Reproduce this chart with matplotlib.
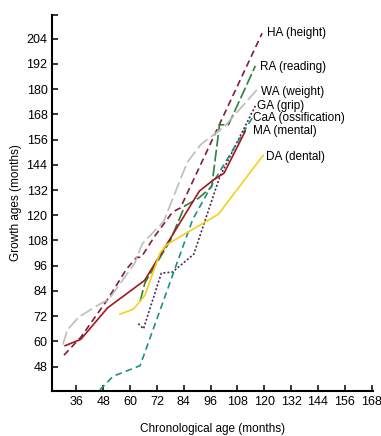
import matplotlib
matplotlib.use("Agg")
import matplotlib.pyplot as plt

plt.rcParams['font.family'] = ['Liberation Sans', 'DejaVu Sans']

# Wachstumsalter je Merkmal (chronologisches Alter, Wachstumsalter), in Monaten
ha_x = [30.5, 38, 50, 58.5, 63, 65, 71, 79, 82.5, 119]
ha_y = [53.5, 62, 80, 94.5, 100, 100, 110, 121.5, 123.5, 206.5]

ra_x = [64.5, 66.7, 78, 84.5, 90.5, 96.5, 100, 104, 116]
ra_y = [79, 88, 108, 124.5, 128, 133.5, 163, 163, 191]

wa_x = [30, 32, 37, 46, 50.5, 62, 65.5, 75, 85.5, 91.5, 97, 102, 117]
wa_y = [58.5, 65.5, 71.5, 77.5, 80, 97, 106.5, 117, 145, 153.5, 158, 162, 180]

ga_x = [63.7, 66, 74, 79, 88.5, 100, 116]
ga_y = [68.5, 66, 92.5, 93, 101.5, 138, 172]

caa_x = [46.5, 52.5, 64.5, 88, 98.5, 115]
caa_y = [37, 43.5, 48.5, 118, 138, 167]

ma_x = [31, 38, 50, 66.5, 91, 97.5, 102, 111.5]
ma_y = [58, 61, 76, 89, 131.5, 137, 140, 160]

da_x = [55.5, 61.5, 66.7, 73.4, 76.4, 99.5, 119.5]
da_y = [73, 75.3, 82, 102, 106, 120.5, 148.5]

xticks = [36, 48, 60, 72, 84, 96, 108, 120, 132, 144, 156, 168]
yticks = [48, 60, 72, 84, 96, 108, 120, 132, 144, 156, 168, 180, 192, 204]

fig = plt.figure(figsize=(3.81, 4.36), dpi=100)
ax = fig.add_axes([0.1373, 0.1032, 0.8407, 0.8624])

lw = 1.2
ax.plot(ha_x, ha_y, color='#7d1e3c', lw=lw, dashes=(4, 2.5))
ax.plot(ra_x, ra_y, color='#2f7f3a', lw=lw, dashes=(7, 2))
ax.plot(wa_x, wa_y, color='#bdbeb6', lw=lw, dashes=(8, 2.5))
ax.plot(ga_x, ga_y, color='#4b2a4e', lw=lw, dashes=(1.2, 1.2))
ax.plot(caa_x, caa_y, color='#1c8f87', lw=lw, dashes=(4, 2.5))
ax.plot(ma_x, ma_y, color='#a0181c', lw=lw)
ax.plot(da_x, da_y, color='#f2d21b', lw=lw)

# Beschriftung am Ende der Linien
fs = 8.5
ax.text(121.2, 206.5, 'HA (height)', fontsize=fs, va='center', ha='left')
ax.text(118.1, 190.6, 'RA (reading)', fontsize=fs, va='center', ha='left')
ax.text(118.5, 178.7, 'WA (weight)', fontsize=fs, va='center', ha='left')
ax.text(116.9, 172.0, 'GA (grip)', fontsize=fs, va='center', ha='left')
ax.text(115.1, 166.3, 'CaA (ossification)', fontsize=fs, va='center', ha='left')
ax.text(115.1, 160.2, 'MA (mental)', fontsize=fs, va='center', ha='left')
ax.text(120.8, 147.8, 'DA (dental)', fontsize=fs, va='center', ha='left')

ax.set_xlim(25.28, 168.4)
ax.set_ylim(36.45, 215.2)

ax.spines['top'].set_visible(False)
ax.spines['right'].set_visible(False)
ax.spines['left'].set_linewidth(1.5)
ax.spines['bottom'].set_linewidth(1.5)

ax.set_xticks(xticks)
ax.set_yticks(yticks + [215.2])
ax.set_yticklabels([str(v) for v in yticks] + [''])
ax.tick_params(direction='in', length=4.3, width=1.1, labelsize=9, pad=3.5)

ax.set_xlabel('Chronological age (months)', fontsize=8.5, labelpad=11)
ax.set_ylabel('Growth ages (months)', fontsize=8.5, labelpad=3)

fig.savefig('out.png', dpi=100)
